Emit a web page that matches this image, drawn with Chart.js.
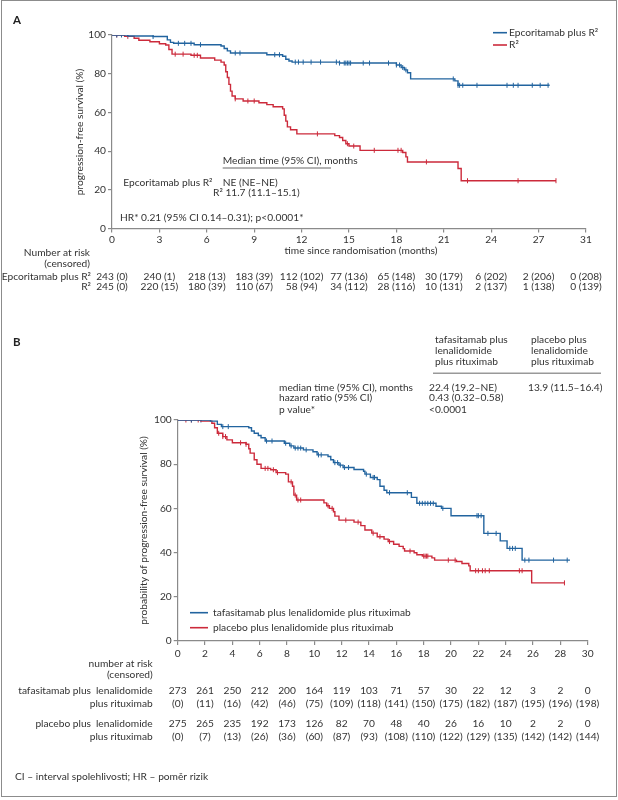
<!DOCTYPE html>
<html>
<head>
<meta charset="utf-8">
<script src="https://cdn.jsdelivr.net/npm/chart.js@4.4.1/dist/chart.umd.min.js"></script>
<style>
  body { margin: 0; background: #fff; }
  #wrap { position: relative; width: 618px; height: 800px; }
  #frame { position: absolute; left: 1px; top: 0; width: 616px; height: 797px; box-sizing: border-box; border: 1.5px solid #8c8c8c; }
  canvas { position: absolute; left: 0; }
</style>
</head>
<body>
<div id="wrap">
  <div id="frame"></div>
  <canvas id="chartA" width="618" height="300" style="top:0"></canvas>
  <canvas id="chartB" width="618" height="500" style="top:300px"></canvas>
</div>
<script>
// ---------- panel A: epcoritamab + R2 vs R2 ----------
const xTickLabelsA = ['0', '3', '6', '9', '12', '15', '18', '21', '24', '27', '31'];
const epcorTime = [0, 1.0, 2.6, 3.5, 3.7, 3.9, 5.2, 6.9, 7.1, 7.3, 7.5, 9.8, 10.8, 11.0, 11.2, 11.4, 14.4, 18.0, 18.3, 18.5, 18.7, 18.9, 21.7, 21.9, 27.7];
const epcorSurv = [100, 99.5, 99.2, 97.5, 96.2, 95.7, 95.0, 94.3, 93.0, 91.8, 90.7, 89.8, 89.0, 87.5, 86.6, 86.0, 85.5, 84.5, 83.2, 82.0, 80.5, 77.3, 76.3, 74.0, 74.0];
const epcorCens = [0.3, 0.6, 2.6, 4.2, 4.6, 5.0, 5.6, 7.8, 8.1, 10.3, 10.6, 11.6, 11.8, 12.1, 12.6, 13.2, 14.2, 14.4, 14.7, 14.8, 14.9, 15.0, 15.1, 15.9, 16.3, 17.5, 18.0, 18.2, 18.4, 18.6, 21.6, 21.9, 22.0, 22.2, 23.1, 25.0, 25.4, 25.7, 26.6, 27.1, 27.6];
const r2Time = [0, 0.8, 1.4, 1.7, 2.4, 3.0, 3.4, 3.6, 3.8, 5.0, 5.6, 6.5, 6.9, 7.1, 7.2, 7.3, 7.4, 7.5, 7.6, 7.8, 8.3, 9.3, 9.8, 10.2, 10.8, 10.9, 11.0, 11.1, 11.3, 11.7, 14.1, 14.4, 14.6, 14.8, 15.0, 15.7, 18.4, 18.6, 18.7, 21.9, 22.1, 28.1];
const r2Surv = [100, 99.3, 98.3, 97.3, 96.5, 95.5, 94.8, 92.5, 90.1, 89.5, 88.1, 87.0, 86.0, 84.5, 81.0, 78.0, 74.5, 71.0, 68.5, 67.0, 65.9, 65.0, 64.0, 62.9, 61.8, 58.5, 55.5, 52.5, 51.0, 48.9, 48.0, 47.0, 45.5, 43.8, 42.6, 40.4, 39.3, 37.0, 34.4, 31.0, 24.7, 24.7];
const r2Cens = [0.3, 1.0, 4.0, 4.5, 5.2, 5.4, 7.8, 8.6, 9.0, 13.0, 14.9, 15.3, 16.6, 18.1, 18.3, 19.9, 22.5, 25.7, 28.1];
const riskEpcorA = [243, 240, 218, 183, 112, 77, 65, 30, 6, 2, 0];
const censEpcorA = [0, 1, 13, 39, 102, 136, 148, 179, 202, 206, 208];
const riskR2A = [245, 220, 180, 110, 58, 34, 28, 10, 2, 1, 0];
const censR2A = [0, 15, 39, 67, 94, 112, 116, 131, 137, 138, 139];

// ---------- panel B: tafasitamab vs placebo ----------
const xTickLabelsB = ['0', '2', '4', '6', '8', '10', '12', '14', '16', '18', '20', '22', '24', '26', '28', '30'];
const tafaTime = [0, 2.4, 2.9, 3.2, 5.2, 5.4, 5.6, 5.9, 6.1, 6.4, 7.8, 8.2, 8.5, 9.2, 9.9, 10.2, 11.0, 11.2, 11.4, 11.8, 12.1, 12.9, 13.6, 13.7, 14.1, 14.6, 14.8, 15.1, 15.3, 17.1, 17.5, 18.9, 19.3, 20.0, 22.4, 23.6, 24.1, 25.2, 28.7];
const tafaSurv = [100, 99.5, 98.0, 97.0, 96.5, 95.0, 94.0, 93.0, 92.0, 90.5, 89.5, 88.3, 87.3, 86.5, 85.6, 84.2, 83.5, 82.0, 80.7, 79.6, 78.5, 77.6, 76.8, 75.5, 74.0, 73.0, 70.0, 68.2, 67.1, 65.0, 62.3, 61.0, 60.0, 56.7, 48.7, 45.3, 41.9, 36.6, 36.6];
const tafaCens = [1.0, 1.7, 3.3, 3.7, 6.5, 6.9, 7.9, 8.3, 8.6, 8.8, 9.0, 9.4, 10.3, 10.5, 11.5, 11.7, 11.9, 12.2, 12.5, 13.8, 14.3, 14.4, 15.5, 16.8, 17.7, 17.9, 18.1, 18.3, 18.5, 18.7, 19.4, 21.9, 22.0, 22.2, 22.7, 23.3, 24.3, 24.5, 24.7, 25.4, 25.7, 27.5, 28.5];
const placTime = [0, 1.7, 2.5, 2.7, 2.9, 3.3, 3.6, 4.0, 5.0, 5.2, 5.3, 5.6, 5.8, 6.1, 6.8, 7.2, 7.9, 8.1, 8.4, 8.5, 8.7, 10.7, 10.9, 11.1, 11.4, 11.5, 11.8, 12.9, 13.4, 13.7, 14.2, 14.6, 15.1, 15.4, 15.8, 16.2, 16.5, 16.6, 17.3, 17.5, 17.9, 18.6, 18.8, 20.4, 20.8, 21.3, 21.4, 25.9, 28.3];
const placSurv = [100, 99.5, 98.5, 96.5, 94.0, 92.5, 91.0, 89.7, 89.0, 87.0, 85.0, 82.0, 80.0, 78.1, 77.5, 76.2, 75.5, 72.0, 70.0, 66.0, 63.8, 62.5, 61.2, 60.0, 58.5, 56.5, 54.7, 53.8, 52.2, 50.2, 48.8, 47.2, 46.1, 45.0, 43.8, 42.8, 41.8, 40.7, 39.9, 39.0, 38.4, 37.6, 36.6, 36.0, 35.1, 34.0, 31.8, 26.3, 26.3];
const placCens = [0.6, 1.0, 1.5, 3.0, 3.3, 3.5, 4.6, 5.0, 6.4, 6.6, 7.0, 7.3, 8.3, 8.6, 8.8, 9.0, 11.0, 11.3, 12.3, 13.2, 14.3, 14.8, 15.5, 17.0, 18.0, 18.1, 18.2, 18.3, 19.8, 20.3, 21.8, 22.0, 22.3, 22.5, 22.8, 25.0, 25.2, 28.3];
const riskTafaB = [273, 261, 250, 212, 200, 164, 119, 103, 71, 57, 30, 22, 12, 3, 2, 0];
const censTafaB = [0, 11, 16, 42, 46, 75, 109, 118, 141, 150, 175, 182, 187, 195, 196, 198];
const riskPlacB = [275, 265, 235, 192, 173, 126, 82, 70, 48, 40, 26, 16, 10, 2, 2, 0];
const censPlacB = [0, 7, 13, 26, 36, 60, 87, 93, 108, 110, 122, 129, 135, 142, 142, 144];

const BLUE = '#22649f';
const RED = '#cc2a3b';
const AXIS = '#8a8a8a';
const TEXT = '#333';
const FONT = 'Lato, "Open Sans", sans-serif';
const FSIZE = 10.2;

// step curve points
const toPoints = (times, surv) => times.map((t, i) => ({ x: t, y: surv[i] }));

// put censor marks on the curve
const censorPoints = (cens, times, surv) => cens.map(t => {
  let k = 0;
  for (let i = 0; i < times.length; i++) if (times[i] <= t) k = i;
  return { x: t, y: surv[k] };
});

function curve(label, times, surv, color) {
  return {
    label: label,
    data: toPoints(times, surv),
    borderColor: color,
    backgroundColor: color,
    borderWidth: 1.4,
    stepped: true,
    pointRadius: 0,
    fill: false
  };
}

function censors(label, cens, times, surv, color) {
  return {
    label: label,
    data: censorPoints(cens, times, surv),
    showLine: false,
    borderColor: color,
    backgroundColor: color,
    pointStyle: 'line',
    rotation: 90,
    pointRadius: 2.5,
    pointBorderWidth: 1
  };
}

function txt(ctx, s, x, y, align, font, color) {
  ctx.save();
  ctx.font = font || (FSIZE + 'px ' + FONT);
  ctx.fillStyle = color || TEXT;
  ctx.textAlign = align || 'left';
  ctx.textBaseline = 'middle';
  ctx.fillText(s, x, y);
  ctx.restore();
}

function vtxt(ctx, s, x, y) {
  ctx.save();
  ctx.translate(x, y);
  ctx.rotate(-Math.PI / 2);
  txt(ctx, s, 0, 0, 'center');
  ctx.restore();
}

function hline(ctx, x1, x2, y, color, w) {
  ctx.save();
  ctx.strokeStyle = color;
  ctx.lineWidth = w;
  ctx.beginPath();
  ctx.moveTo(x1, y);
  ctx.lineTo(x2, y);
  ctx.stroke();
  ctx.restore();
}

function scales(xLabels, step, yWidth, labelPad) {
  return {
    x: {
      type: 'linear', min: 0, max: 30,
      ticks: {
        stepSize: step, autoSkip: false, maxRotation: 0, padding: labelPad,
        color: TEXT, font: { family: FONT, size: FSIZE },
        callback: v => xLabels[Math.round(v / step)]
      },
      grid: { display: true, drawOnChartArea: false, tickLength: 4, color: AXIS, lineWidth: 1.2 },
      border: { display: true, color: AXIS, width: 1.2 },
      afterFit: s => { s.height = 20; }
    },
    y: {
      min: 0, max: 100,
      ticks: { stepSize: 20, padding: 2, color: TEXT, font: { family: FONT, size: FSIZE } },
      grid: { display: true, drawOnChartArea: false, tickLength: 4, color: AXIS, lineWidth: 1.2 },
      border: { display: true, color: AXIS, width: 1.2 },
      afterFit: s => { s.width = yWidth; }
    }
  };
}

// ---------- panel A ----------
const textA = {
  id: 'textA',
  afterDraw(chart) {
    const ctx = chart.ctx;
    const xs = chart.scales.x;
    txt(ctx, 'A', 13, 20, 'left', 'bold 11.5px ' + FONT, '#222');

    // legend
    const ds = chart.data.datasets;
    [[ds[0], 32.7], [ds[1], 45]].forEach(([d, y]) => {
      hline(ctx, 493, 507, y, d.borderColor, 1.6);
      txt(ctx, d.label, 509, y);
    });

    vtxt(ctx, 'progression-free survival (%)', 80, 132);

    txt(ctx, 'Median time (95% CI), months', 222.7, 160.7);
    hline(ctx, 222.7, 331, 168, '#666', 1);
    txt(ctx, 'Epcoritamab plus R²', 123.3, 182.7);
    txt(ctx, 'NE (NE–NE)', 222.7, 182.7);
    txt(ctx, 'R² 11.7 (11.1–15.1)', 213, 192.7);
    txt(ctx, 'HR* 0.21 (95% CI 0.14–0.31); p<0.0001*', 120, 217.3);

    txt(ctx, 'time since randomisation (months)', 361, 251, 'center');

    txt(ctx, 'Number at risk', 90, 252.7, 'right');
    txt(ctx, '(censored)', 90, 263.3, 'right');
    txt(ctx, 'Epcoritamab plus R²', 91, 276.7, 'right');
    txt(ctx, 'R²', 91, 286.7, 'right');
    riskEpcorA.forEach((n, i) => {
      const x = xs.getPixelForValue(i * 3);
      txt(ctx, n + ' (' + censEpcorA[i] + ')', x, 276.7, 'center');
      txt(ctx, riskR2A[i] + ' (' + censR2A[i] + ')', x, 286.7, 'center');
    });
  }
};

new Chart(document.getElementById('chartA'), {
  type: 'line',
  data: {
    datasets: [
      curve('Epcoritamab plus R²', epcorTime, epcorSurv, BLUE),
      curve('R²', r2Time, r2Surv, RED),
      censors('Epcoritamab plus R² censored', epcorCens, epcorTime, epcorSurv, BLUE),
      censors('R² censored', r2Cens, r2Time, r2Surv, RED)
    ]
  },
  options: {
    responsive: false,
    animation: false,
    layout: { padding: { left: 76, right: 32, top: 35, bottom: 51.5 } },
    scales: scales(xTickLabelsA, 3, 36, 1),
    plugins: { legend: { display: false }, tooltip: { enabled: false } }
  },
  plugins: [textA]
});

// ---------- panel B ----------
const textB = {
  id: 'textB',
  afterDraw(chart) {
    const ctx = chart.ctx;
    const xs = chart.scales.x;
    txt(ctx, 'B', 13, 42, 'left', 'bold 11.5px ' + FONT, '#222');

    txt(ctx, 'tafasitamab plus', 435, 39.3);
    txt(ctx, 'lenalidomide', 435, 50.7);
    txt(ctx, 'plus rituximab', 435, 61.7);
    txt(ctx, 'placebo plus', 531, 39.3);
    txt(ctx, 'lenalidomide', 531, 50.7);
    txt(ctx, 'plus rituximab', 531, 61.7);
    hline(ctx, 433, 601, 73.3, '#999', 1.6);

    txt(ctx, 'median time (95% CI), months', 279, 87.3);
    txt(ctx, 'hazard ratio (95% CI)', 279, 98);
    txt(ctx, 'p value*', 279, 109.3);
    txt(ctx, '22.4 (19.2–NE)', 429, 87.3);
    txt(ctx, '0.43 (0.32–0.58)', 429, 98);
    txt(ctx, '<0.0001', 429, 109.3);
    txt(ctx, '13.9 (11.5–16.4)', 528, 87.3);

    vtxt(ctx, 'probability of progression-free survival (%)', 144, 230.5);

    const ds = chart.data.datasets;
    [[ds[0], 312.7], [ds[1], 327.7]].forEach(([d, y]) => {
      hline(ctx, 190, 208, y, d.borderColor, 1.6);
      txt(ctx, d.label, 213, y);
    });

    txt(ctx, 'number at risk', 152.7, 364, 'right');
    txt(ctx, '(censored)', 152.7, 374.7, 'right');
    txt(ctx, 'tafasitamab plus', 91, 390.7, 'right');
    txt(ctx, 'lenalidomide', 152.7, 390.7, 'right');
    txt(ctx, 'plus rituximab', 152.7, 403.3, 'right');
    txt(ctx, 'placebo plus', 91, 424, 'right');
    txt(ctx, 'lenalidomide', 152.7, 424, 'right');
    txt(ctx, 'plus rituximab', 152.7, 436.7, 'right');
    riskTafaB.forEach((n, i) => {
      const x = xs.getPixelForValue(i * 2);
      txt(ctx, String(n), x, 390.7, 'center');
      txt(ctx, '(' + censTafaB[i] + ')', x, 403.3, 'center');
      txt(ctx, String(riskPlacB[i]), x, 424, 'center');
      txt(ctx, '(' + censPlacB[i] + ')', x, 436.7, 'center');
    });

    txt(ctx, 'CI – interval spolehlivosti; HR – poměr rizik', 15, 476.7);
  }
};

new Chart(document.getElementById('chartB'), {
  type: 'line',
  data: {
    datasets: [
      curve('tafasitamab plus lenalidomide plus rituximab', tafaTime, tafaSurv, BLUE),
      curve('placebo plus lenalidomide plus rituximab', placTime, placSurv, RED),
      censors('tafasitamab censored', tafaCens, tafaTime, tafaSurv, BLUE),
      censors('placebo censored', placCens, placTime, placSurv, RED)
    ]
  },
  options: {
    responsive: false,
    animation: false,
    layout: { padding: { left: 141.7, right: 30.3, top: 120, bottom: 139 } },
    scales: scales(xTickLabelsB, 2, 36, 3),
    plugins: { legend: { display: false }, tooltip: { enabled: false } }
  },
  plugins: [textB]
});
</script>
</body>
</html>
